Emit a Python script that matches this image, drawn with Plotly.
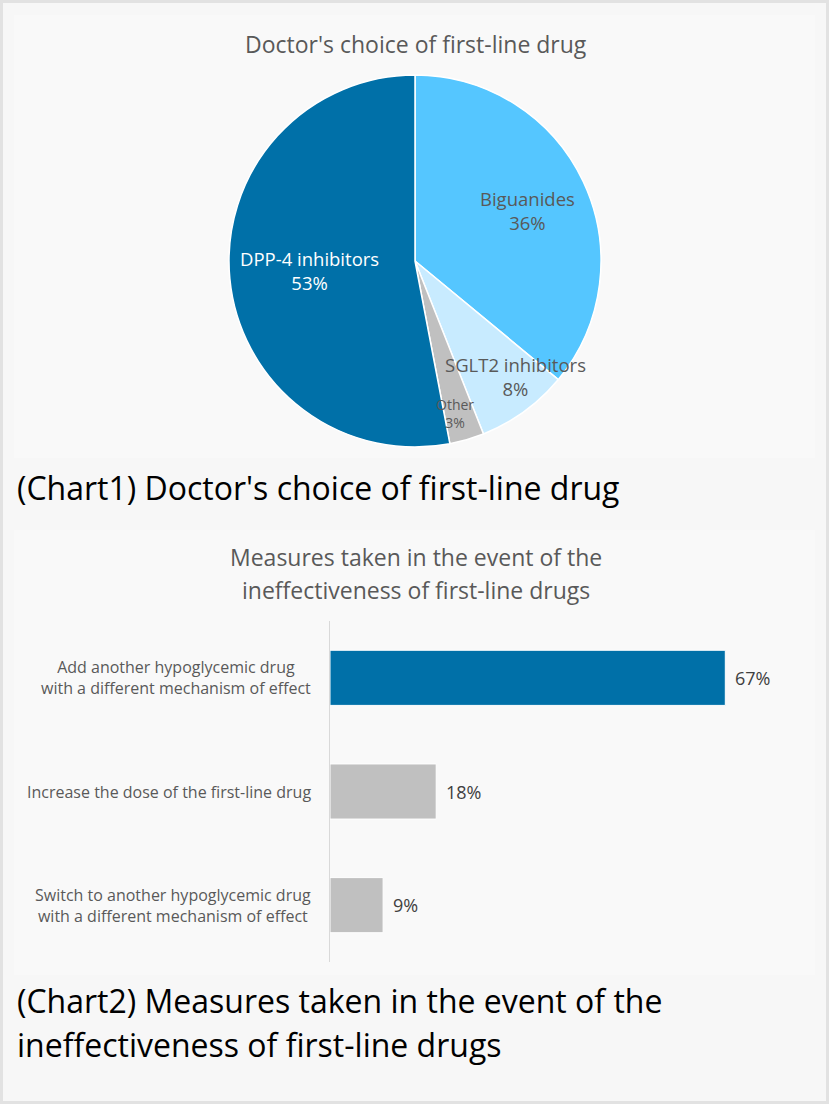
import math
import plotly.graph_objects as go

W, H = 829, 1104

# ---- data ----
pie_labels = ["Biguanides", "SGLT2 inhibitors", "Other", "DPP-4 inhibitors"]
pie_values = [36, 8, 3, 53]
pie_colors = ["#55c6ff", "#c8ebff", "#c0c0c0", "#0070a8"]

bar_categories = [
    "Add another hypoglycemic drug<br>with a different mechanism of effect",
    "Increase the dose of the first-line drug",
    "Switch to another hypoglycemic drug<br>with a different mechanism of effect",
]
bar_values = [67, 18, 9]
bar_colors = ["#0070a8", "#c0c0c0", "#c0c0c0"]

pie_title = "Doctor's choice of first-line drug"
bar_title_lines = ["Measures taken in the event of the", "ineffectiveness of first-line drugs"]
caption1 = "(Chart1) Doctor's choice of first-line drug"
caption2_lines = ["(Chart2) Measures taken in the event of the", "ineffectiveness of first-line drugs"]

# ---- styles ----
FONT = "Open Sans"
TXT = "#595959"
pie_label_r = [0.666, 0.82, 0.85, 0.567]
pie_label_dang = [1.0, -5.0, 1.5, 0.2]
pie_label_color = [TXT, TXT, TXT, "#ffffff"]
pie_label_size = [18.5, 18.5, 14, 18.5]


def px(x):
    return x / W


def py(y):
    return 1 - y / H


fig = go.Figure()

cx, cy, R = 415, 261, 186
fig.add_trace(go.Pie(
    labels=pie_labels, values=pie_values, sort=False, direction="clockwise",
    rotation=0, marker=dict(colors=pie_colors, line=dict(color="#ffffff", width=1.5)),
    textinfo="none", hoverinfo="label+percent", showlegend=False,
    domain=dict(x=[px(cx - R), px(cx + R)], y=[py(cy + R), py(cy - R)]),
))

annotations = []
total = sum(pie_values)
cum = 0
for lab, v, rf, da, col, fs in zip(pie_labels, pie_values, pie_label_r, pie_label_dang,
                                   pie_label_color, pie_label_size):
    mid = (cum + v / 2) / total * 2 * math.pi + math.radians(da)
    cum += v
    lx = cx + rf * R * math.sin(mid)
    ly = cy - rf * R * math.cos(mid)
    pct = round(v / total * 100)
    annotations.append(dict(
        x=px(lx), y=py(ly), xref="paper", yref="paper", showarrow=False,
        text=f"{lab}<br>{pct}%", align="center", xanchor="center", yanchor="middle",
        font=dict(family=FONT, size=fs, color=col),
    ))

fig.add_trace(go.Bar(
    x=bar_values, y=bar_categories, orientation="h",
    marker=dict(color=bar_colors, line=dict(color="#ffffff", width=1)),
    hoverinfo="x+y", showlegend=False, xaxis="x", yaxis="y", width=0.485,
))

for cat, v in zip(bar_categories, bar_values):
    annotations.append(dict(
        x=v, y=cat, xref="x", yref="y", showarrow=False, xanchor="left", yanchor="middle",
        xshift=8, text=f"{v}%", font=dict(family=FONT, size=18, color="#404040"),
    ))
    annotations.append(dict(
        x=px(313), y=cat, xref="paper", yref="y", showarrow=False, xanchor="right",
        yanchor="middle", align="center", text=cat,
        font=dict(family=FONT, size=16, color=TXT),
    ))

annotations.append(dict(x=px(416), y=py(44), xref="paper", yref="paper", showarrow=False,
                        text=pie_title, xanchor="center", yanchor="middle",
                        font=dict(family=FONT, size=23, color=TXT)))
for i, t in enumerate(bar_title_lines):
    annotations.append(dict(x=px(416), y=py(557 + 33 * i), xref="paper", yref="paper",
                            showarrow=False, text=t, xanchor="center", yanchor="middle",
                            font=dict(family=FONT, size=23, color=TXT)))
annotations.append(dict(x=px(15), y=py(487), xref="paper", yref="paper", showarrow=False,
                        text=caption1, xanchor="left", yanchor="middle",
                        font=dict(family=FONT, size=32, color="#000000")))
for i, t in enumerate(caption2_lines):
    annotations.append(dict(x=px(15), y=py(1000 + 44 * i), xref="paper", yref="paper",
                            showarrow=False, text=t, xanchor="left", yanchor="middle",
                            font=dict(family=FONT, size=32, color="#000000")))

shapes = [
    dict(type="rect", xref="paper", yref="paper", x0=px(14), x1=px(815), y0=py(458), y1=py(15),
         line=dict(width=0), fillcolor="#f9f9f9", layer="below"),
    dict(type="rect", xref="paper", yref="paper", x0=px(14), x1=px(815), y0=py(975), y1=py(530),
         line=dict(width=0), fillcolor="#f9f9f9", layer="below"),
    dict(type="rect", xref="paper", yref="paper", x0=px(1.5), x1=px(W - 1.5), y0=py(H - 1.5), y1=py(1.5),
         line=dict(width=3, color="#e2e2e2"), fillcolor="rgba(0,0,0,0)", layer="above"),
]

fig.update_layout(
    width=W, height=H, margin=dict(l=0, r=0, t=0, b=0),
    paper_bgcolor="#f7f7f7", plot_bgcolor="rgba(0,0,0,0)",
    font=dict(family=FONT, color=TXT),
    xaxis=dict(domain=[px(330), px(802)], range=[0, 80], visible=False, fixedrange=True),
    yaxis=dict(domain=[py(962), py(621)], type="category", range=[2.5, -0.5],
               showline=True, linecolor="#d9d9d9", linewidth=1, showticklabels=False,
               showgrid=False, zeroline=False, ticks="", fixedrange=True),
    annotations=annotations, shapes=shapes, bargap=0.515,
)

fig.write_html("out.html")
